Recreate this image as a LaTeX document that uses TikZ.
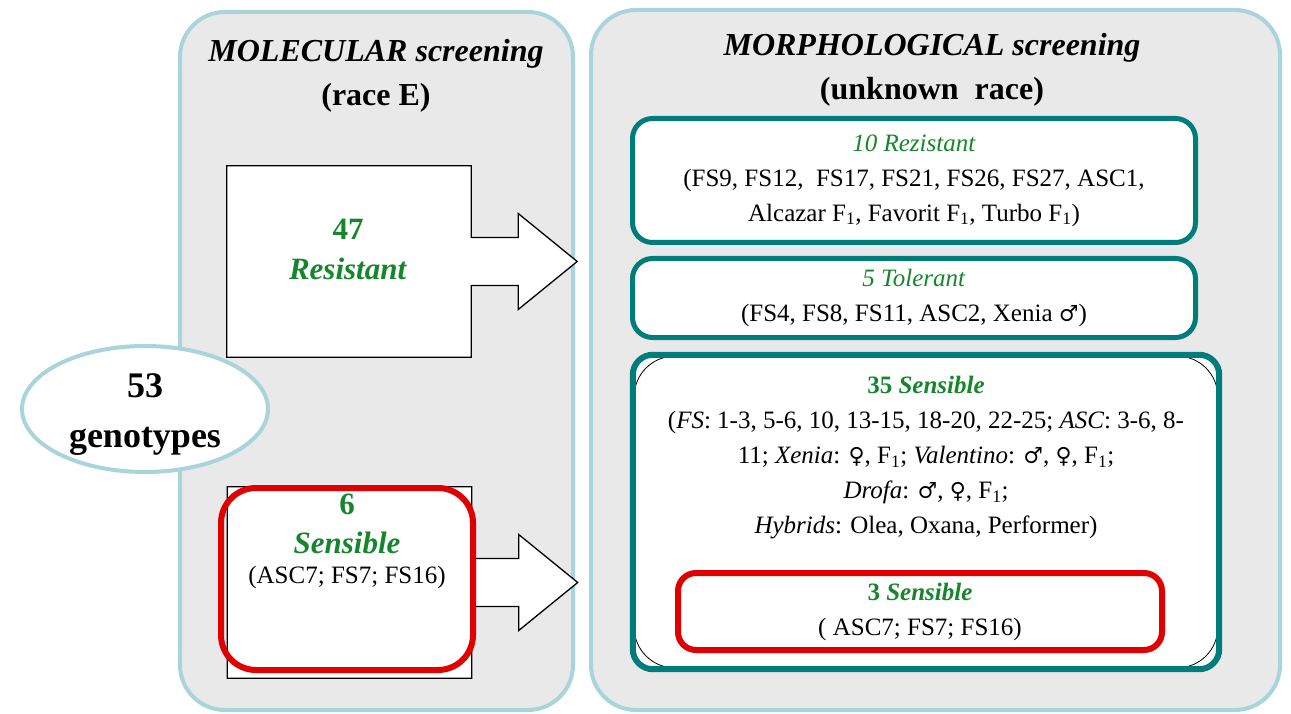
\documentclass[tikz,border=0pt]{standalone}
\usepackage{fontspec}
\setmainfont{Liberation Serif}
\newfontfamily\glyphfont{DejaVu Serif}
\newcommand{\symmale}{{\glyphfont\fontsize{22}{35}\selectfont ♂}}
\newcommand{\symfemale}{{\glyphfont\fontsize{22}{35}\selectfont ♀}}
\usetikzlibrary{positioning,shapes.geometric}
\definecolor{panelfill}{RGB}{233,233,233}
\definecolor{panelline}{RGB}{168,212,218}
\definecolor{tealline}{RGB}{0,124,122}
\definecolor{redline}{RGB}{224,0,0}
\definecolor{greentext}{RGB}{22,134,44}

\begin{document}
\begin{tikzpicture}[x=1pt, y=-1pt, every node/.style={align=center, inner sep=0pt},
    panel/.style={draw=panelline, fill=panelfill, line width=4pt, rounded corners=45pt},
    title/.style={font=\fontsize{32}{44}\selectfont\bfseries},
    body/.style={font=\fontsize{25}{35}\selectfont},
    bigtext/.style={font=\fontsize{31}{40}\selectfont\bfseries, text=greentext},
    result/.style={draw=tealline, fill=white, line width=5pt, rounded corners=20pt},
    redbox/.style={draw=redline, line width=6pt, rounded corners=35pt},
    blockbox/.style={minimum width=244pt, minimum height=191pt}]
  \useasboundingbox (0,0) rectangle (1291,714);

  % two screening panels
  \node[panel, minimum width=393pt, minimum height=698pt] (mol) at (376.5,361) {};
  \node[panel, minimum width=689pt, minimum height=700pt] (morph) at (935.5,360) {};
  \node[title] (moltitle) at (376,76) {\textit{MOLECULAR screening}\\(race E)};
  \node[title] (morphtitle) at (932,70) {\textit{MORPHOLOGICAL screening}\\(unknown\ \ race)};

  % molecular results with block arrows
  \node[blockbox] (r47) at (349,261.5) {};
  \node[blockbox] (r6) at (349.5,582.5) {};
  \foreach \b in {r47,r6} {
    \coordinate (\b tip) at ([xshift=106pt]\b.east);
    \draw[fill=white, line width=1.3pt] (\b.north west) -- (\b.north east) -- ([yshift=24pt]\b.east)
      -- ++(47,0) -- ++(0,-24) -- (\b tip) -- ++(-59,48) -- ++(0,-24) -- ++(-47,0)
      -- (\b.south east) -- (\b.south west) -- cycle;
  }
  \node[bigtext] (t47) at (348,249) {47\\\textit{Resistant}};
  \node[redbox, minimum width=252pt, minimum height=182pt] (red6) at (347,579) {};
  \node[bigtext, font=\fontsize{31}{39}\selectfont\bfseries] (t6) at (347,524) {6\\\textit{Sensible}};
  \node[body, below=12pt of t6] (l6) {(ASC7; FS7; FS16)};

  % morphological results
  \node[result, body, minimum width=563pt, minimum height=124pt] (rez) at (914,180.5)
    {\textcolor{greentext}{\textit{10 Rezistant}}\\
     (FS9, FS12,\ \ FS17, FS21, FS26, FS27, ASC1,\\
     Alcazar F\textsubscript{1}, Favorit F\textsubscript{1}, Turbo F\textsubscript{1})};
  \node[result, body, minimum width=563pt, minimum height=79pt] (tol) at (914,298)
    {\textcolor{greentext}{\textit{5 Tolerant}}\\
     (FS4, FS8, FS11, ASC2, Xenia \symmale)};
  \node[fill=white, rounded corners=20pt, minimum width=586pt, minimum height=314pt] (sens) at (926,512) {};
  \draw[line width=0.8pt, rounded corners=40pt] ([shift={(1.5pt,-1.5pt)}]sens.north west) rectangle ([shift={(-1.5pt,1.5pt)}]sens.south east);
  \draw[tealline, line width=6pt, rounded corners=20pt] (sens.north west) rectangle (sens.south east);
  \node[body] (senstxt) at (926,458)
    {\textcolor{greentext}{\bfseries 35 \textit{Sensible}}\\
     (\textit{FS}: 1-3, 5-6, 10, 13-15, 18-20, 22-25; \textit{ASC}: 3-6, 8-\\
     11; \textit{Xenia}: \symfemale, F\textsubscript{1}; \textit{Valentino}: \symmale, \symfemale, F\textsubscript{1};\\
     \textit{Drofa}: \symmale, \symfemale, F\textsubscript{1};\\
     \textit{Hybrids}: Olea, Oxana, Performer)};
  \node[redbox, body, fill=white, rounded corners=18pt, minimum width=484pt, minimum height=77pt] (red3) at (920,611.5)
    {\textcolor{greentext}{\bfseries 3 \textit{Sensible}}\\
     ( ASC7; FS7; FS16)};

  % starting set
  \node[ellipse, draw=panelline, line width=4pt, fill=white, minimum width=246pt, minimum height=126pt] (geno) at (145,409) {};
  \node[font=\fontsize{36}{50}\selectfont\bfseries] (genotxt) at ([yshift=-6pt]geno.center) {53\\genotypes};
\end{tikzpicture}
\end{document}
